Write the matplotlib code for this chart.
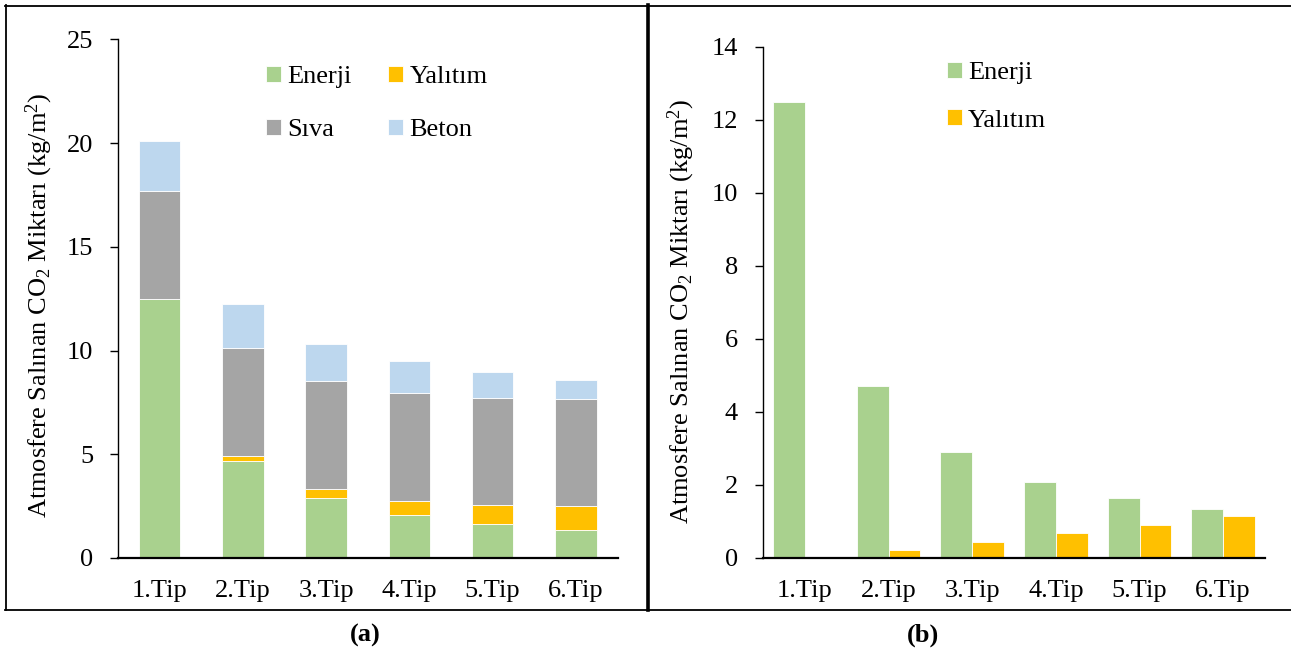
import matplotlib
matplotlib.use('Agg')
import matplotlib.pyplot as plt
import numpy as np
from matplotlib.lines import Line2D

plt.rcParams['font.family'] = ['Liberation Serif', 'DejaVu Serif']
plt.rcParams['mathtext.fontset'] = 'custom'
plt.rcParams['mathtext.rm'] = 'Liberation Serif'
plt.rcParams['mathtext.it'] = 'Liberation Serif:italic'

# veriler (wykresten okunan wartosci)
tipler = ['1.Tip', '2.Tip', '3.Tip', '4.Tip', '5.Tip', '6.Tip']
enerji = [12.5, 4.70, 2.90, 2.09, 1.63, 1.35]
yalitim = [0.0, 0.23, 0.45, 0.68, 0.91, 1.15]
siva = [5.17, 5.17, 5.18, 5.17, 5.17, 5.18]
beton = [2.43, 2.14, 1.80, 1.56, 1.26, 0.91]

renk_enerji = '#A9D18E'
renk_yalitim = '#FFC000'
renk_siva = '#A5A5A5'
renk_beton = '#BDD7EE'

W, H = 1291, 648
fig = plt.figure(figsize=(W / 100, H / 100), dpi=100)

ylabel = 'Atmosfere Salınan CO$_2$ Miktarı (kg/m$^2$)'
fs = 19


def px(x0, y0, x1, y1):
    # prostokat w pikselach -> [left, bottom, width, height] w ulamkach figury
    return [x0 / W, 1 - y1 / H, (x1 - x0) / W, (y1 - y0) / H]


def styl(ax):
    ax.spines['top'].set_visible(False)
    ax.spines['right'].set_visible(False)
    ax.spines['left'].set_linewidth(1.0)
    ax.spines['bottom'].set_linewidth(1.6)
    ax.tick_params(axis='y', direction='out', length=6, width=1, pad=12, labelsize=fs)
    ax.tick_params(axis='x', length=0, pad=16, labelsize=fs)


# Wykres (a) - slupki skumulowane
ax1 = fig.add_axes(px(118, 39.4, 617.5, 558))
x = np.arange(len(tipler))
e = np.array(enerji)
y = np.array(yalitim)
s = np.array(siva)
b = np.array(beton)
kw = dict(width=0.5, edgecolor='white', linewidth=0.6)
ax1.bar(x, e, color=renk_enerji, label='Enerji', **kw)
ax1.bar(x, y, bottom=e, color=renk_yalitim, label='Yalıtım', **kw)
ax1.bar(x, s, bottom=e + y, color=renk_siva, label='Sıva', **kw)
ax1.bar(x, b, bottom=e + y + s, color=renk_beton, label='Beton', **kw)
ax1.set_xlim(-0.5, 5.5)
ax1.set_ylim(0, 25)
ax1.set_yticks(np.arange(0, 26, 5))
ax1.set_xticks(x)
ax1.set_xticklabels(tipler)
styl(ax1)
ax1.set_ylabel(ylabel, fontsize=fs)
ax1.yaxis.set_label_coords(-0.126, 0.488)
h, l = ax1.get_legend_handles_labels()
order = [0, 2, 1, 3]
ax1.legend([h[i] for i in order], [l[i] for i in order], ncol=2, frameon=False,
           fontsize=fs, loc='upper left', bbox_to_anchor=(266 / W, 1 - 66 / H),
           bbox_transform=fig.transFigure, borderaxespad=0, borderpad=0,
           handlelength=0.55, handleheight=0.55, handletextpad=0.25,
           columnspacing=1.4, labelspacing=1.15)

# Wykres (b) - slupki obok siebie
ax2 = fig.add_axes(px(763, 46.9, 1265, 558))
bw = 0.38
ax2.bar(x - bw / 2, enerji, width=bw, color=renk_enerji, edgecolor='white', linewidth=0.6, label='Enerji')
ax2.bar(x + bw / 2, yalitim, width=bw, color=renk_yalitim, edgecolor='white', linewidth=0.6, label='Yalıtım')
ax2.set_xlim(-0.5, 5.5)
ax2.set_ylim(0, 14)
ax2.set_yticks(np.arange(0, 15, 2))
ax2.set_xticks(x)
ax2.set_xticklabels(tipler)
styl(ax2)
ax2.set_ylabel(ylabel, fontsize=fs)
ax2.yaxis.set_label_coords(-0.131, 0.482)
ax2.legend(frameon=False, fontsize=fs, loc='upper left', bbox_to_anchor=(947 / W, 1 - 62 / H),
           bbox_transform=fig.transFigure, borderaxespad=0, borderpad=0,
           handlelength=0.55, handleheight=0.55, handletextpad=0.25, labelspacing=0.95)

# Podpisy (a) i (b)
fig.text(365 / W, 1 - 635 / H, '(a)', fontsize=fs, fontweight='bold', ha='center', va='center')
fig.text(923 / W, 1 - 635 / H, '(b)', fontsize=fs, fontweight='bold', ha='center', va='center')

# Ramki paneli
tr = fig.transFigure
def linia(xs, ys, lw):
    fig.add_artist(Line2D([v / W for v in xs], [1 - v / H for v in ys], color='black', linewidth=lw, transform=tr))

linia([5, 1291], [5.5, 5.5], 1.3)
linia([5, 1291], [609.5, 609.5], 1.3)
linia([5.5, 5.5], [5, 610], 1.3)
linia([648, 648], [5, 610], 2.6)

fig.savefig('out.png', dpi=100)
